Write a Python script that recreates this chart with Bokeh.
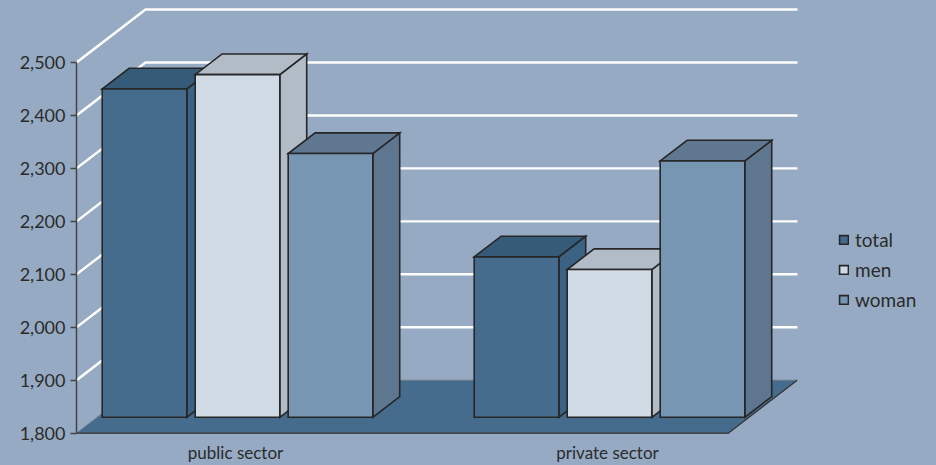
from bokeh.plotting import figure
from bokeh.models import Range1d, NumeralTickFormatter, FixedTicker, Legend, LegendItem, ColumnDataSource
from bokeh.embed import file_html
from bokeh.resources import INLINE
from bokeh.core.properties import value

# ---- data ----
categories = ["public sector", "private sector"]
series = ["total", "men", "woman"]
total = [2420, 2103]
men = [2447, 2079]
woman = [2298, 2284]
y_ticks = [1800, 1900, 2000, 2100, 2200, 2300, 2400, 2500]

# ---- style ----
BG = "#96ABC3"
front_colors = ["#456C8C", "#D0DAE4", "#7796B3"]
top_colors = ["#365B78", "#B2BCC7", "#5F7791"]
side_colors = ["#3B6282", "#B2BCC7", "#5F7690"]
EDGE = "#262626"
FONT = "Lato"

# ---- geometry (x in pixel-like units, y in value units) ----
W, H = 936, 465
LEFT = 76
ppu = 423.7 / 800.0           # pixels per value unit
Y0_PIX = 432.7                # pixel row of the base value
X0 = 76
X_HI = X0 + (W - LEFT)
Y_LO = y_ticks[0] - (H - Y0_PIX) / ppu
Y_HI = y_ticks[0] + Y0_PIX / ppu
DEPTH_DX = 69
DEPTH_DY = 100
FLOOR_RIGHT = 727.7
WALL_RIGHT = 797
GROUP_X0 = 237
GROUP_STEP = 372
BAR_STEP = 93
BAR_W = 84.6
Z_FRONT = 0.30
Z_DEPTH = 0.39

p = figure(width=W, height=H, x_range=Range1d(X0, X_HI), y_range=Range1d(Y_LO, Y_HI),
           output_backend="svg", toolbar_location=None, x_axis_location=None,
           min_border_left=LEFT, min_border_right=0, min_border_top=0, min_border_bottom=0)
p.background_fill_color = BG
p.border_fill_alpha = 0
p.styles = {"background-color": BG}
p.outline_line_color = None
p.grid.visible = False

base = y_ticks[0]

# back-wall gridlines
gx, gy = [], []
for t in y_ticks[1:]:
    gx.append([X0, X0 + DEPTH_DX, WALL_RIGHT])
    gy.append([t, t + DEPTH_DY, t + DEPTH_DY])
p.multi_line(gx, gy, line_color="white", line_width=2.4)

# floor
p.patch([X0, FLOOR_RIGHT, FLOOR_RIGHT + DEPTH_DX, X0 + DEPTH_DX],
        [base, base, base + DEPTH_DY, base + DEPTH_DY],
        fill_color="#456C8C", line_color="#6e7c8a", line_width=1)
p.line([X0, FLOOR_RIGHT, FLOOR_RIGHT + DEPTH_DX], [base, base, base + DEPTH_DY],
       line_color="#333333", line_width=1.2)

# bars
vals = [total, men, woman]
dx = Z_DEPTH * DEPTH_DX
dy = Z_DEPTH * DEPTH_DY
zy = Z_FRONT * DEPTH_DY
legend_items = []
for j, s in enumerate(series):
    lefts, rights, tops, bottoms = [], [], [], []
    pxs, pys, pcols = [], [], []
    for i, cat in enumerate(categories):
        cx = GROUP_X0 + i * GROUP_STEP + (j - 1) * BAR_STEP
        L = cx - BAR_W / 2
        R = cx + BAR_W / 2
        B = base + zy
        T = vals[j][i] + zy
        # side face
        pxs.append([R, R + dx, R + dx, R])
        pys.append([B, B + dy, T + dy, T])
        pcols.append(side_colors[j])
        # top face
        pxs.append([L, R, R + dx, L + dx])
        pys.append([T, T, T + dy, T + dy])
        pcols.append(top_colors[j])
        lefts.append(L); rights.append(R); tops.append(T); bottoms.append(B)
    p.patches(xs="xs", ys="ys", fill_color="c", line_color=EDGE, line_width=1.6,
              line_join="miter",
              source=ColumnDataSource(dict(xs=pxs, ys=pys, c=pcols)))
    r = p.quad(left=lefts, right=rights, top=tops, bottom=bottoms,
               fill_color=front_colors[j], line_color=EDGE, line_width=1.6, line_join="miter")
    legend_items.append(LegendItem(label=s, renderers=[r]))

# category labels
label_y = base - (452 - Y0_PIX) / ppu
p.text(x=[GROUP_X0 + i * GROUP_STEP - 2 for i in range(len(categories))],
       y=[label_y] * len(categories), text=categories,
       text_align="center", text_baseline="middle",
       text_font=value(FONT), text_font_size="17px", text_color="#2b2b2b")

# y axis
ax = p.yaxis[0]
ax.ticker = FixedTicker(ticks=y_ticks)
ax.formatter = NumeralTickFormatter(format="0,0")
ax.bounds = (y_ticks[0], y_ticks[-1])
ax.major_tick_out = 6
ax.major_tick_in = 0
ax.minor_tick_line_color = None
ax.axis_line_color = "#444444"
ax.axis_line_width = 1.5
ax.major_tick_line_color = "#444444"
ax.major_tick_line_width = 1.5
ax.major_label_text_font = FONT
ax.major_label_text_font_size = "18px"
ax.major_label_text_color = "#2b2b2b"
ax.major_label_standoff = 5

legend = Legend(items=legend_items, location=(762, 154), orientation="vertical",
                glyph_width=11, glyph_height=11, label_standoff=6, spacing=7,
                padding=0, margin=0, border_line_color=None, background_fill_alpha=0,
                label_text_font=FONT, label_text_font_size="19px", label_text_color="#2b2b2b",
                label_height=23)
p.add_layout(legend)

open("out.html", "w").write(file_html(p, INLINE))
